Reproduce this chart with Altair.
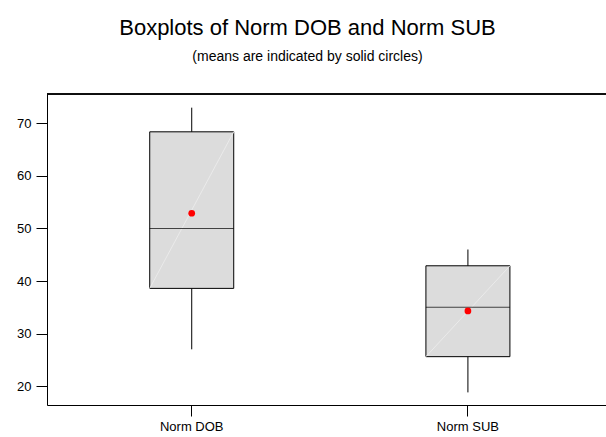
import altair as alt
import pandas as pd

# Five-number summaries and means for each variable
groups = ["Norm DOB", "Norm SUB"]
whisker_low = [27.0, 18.8]
q1 = [38.6, 25.6]
median = [50.0, 35.0]
q3 = [68.4, 42.9]
whisker_high = [73.0, 46.0]
means = [52.9, 34.3]

y_ticks = [20, 30, 40, 50, 60, 70]

df = pd.DataFrame({
    "group": groups,
    "lo": whisker_low,
    "q1": q1,
    "med": median,
    "q3": q3,
    "hi": whisker_high,
    "mean": means,
})

font = "Liberation Sans"
box_w = 84
plot_w = 559
plot_h = 311

x = alt.X(
    "group:N",
    sort=groups,
    scale=alt.Scale(paddingInner=0, paddingOuter=0.012, align=1),
    axis=alt.Axis(
        title=None, labelAngle=0, labelFontSize=13, labelFont=font,
        labelColor="black", tickColor="black", tickSize=11,
        domainColor="black", labelPadding=4,
    ),
)
y_scale = alt.Scale(domain=[16.4, 75.6], nice=False, zero=False)
y_axis = alt.Axis(
    title=None, values=y_ticks, grid=False, labelFontSize=13, labelFont=font,
    labelColor="black", tickColor="black", tickSize=11, domainColor="black",
    labelPadding=5,
)

base = alt.Chart(df)

# whiskers go underneath the boxes so only the outer parts show
whiskers = base.mark_rule(color="black", strokeWidth=1).encode(
    x=x,
    y=alt.Y("lo:Q", scale=y_scale, axis=y_axis),
    y2="hi:Q",
)

boxes = base.mark_bar(
    size=box_w, fill="#DCDCDC", stroke="black", strokeWidth=1
).encode(x=x, y=alt.Y("q1:Q", scale=y_scale), y2="q3:Q")

sheen = base.mark_rule(
    color="#EAEAEA", strokeWidth=1, xOffset=-box_w / 2, x2Offset=box_w / 2
).encode(x=x, x2="group:N", y=alt.Y("q1:Q", scale=y_scale), y2="q3:Q")

medians = base.mark_tick(
    color="black", size=box_w, thickness=1, orient="horizontal"
).encode(x=x, y=alt.Y("med:Q", scale=y_scale))

mean_pts = base.mark_point(
    filled=True, color="#FF0000", size=45, opacity=1, shape="circle"
).encode(x=x, y=alt.Y("mean:Q", scale=y_scale))

# top edge of the plot frame (open on the right)
frame_top = alt.Chart(df).mark_rule(color="black", strokeWidth=1.5).encode(
    x=alt.value(0), x2=alt.value(plot_w), y=alt.value(0)
)

chart = (
    alt.layer(whiskers, boxes, sheen, medians, mean_pts, frame_top)
    .properties(
        width=plot_w,
        height=plot_h,
        autosize=alt.AutoSizeParams(type="none"),
        padding={"left": 47, "top": 94, "right": 0, "bottom": 32},
        title=alt.TitleParams(
            text="Boxplots of Norm DOB and Norm SUB",
            subtitle="(means are indicated by solid circles)",
            anchor="middle",
            dx=-19,
            fontSize=22,
            font=font,
            fontWeight="normal",
            color="black",
            subtitleFont=font,
            subtitleFontSize=14,
            subtitleColor="black",
            subtitlePadding=10,
            offset=28,
        ),
    )
    .configure_view(stroke=None)
    .configure(background="white")
)

chart.save("out.html", embed_options={"renderer": "svg", "actions": False})
